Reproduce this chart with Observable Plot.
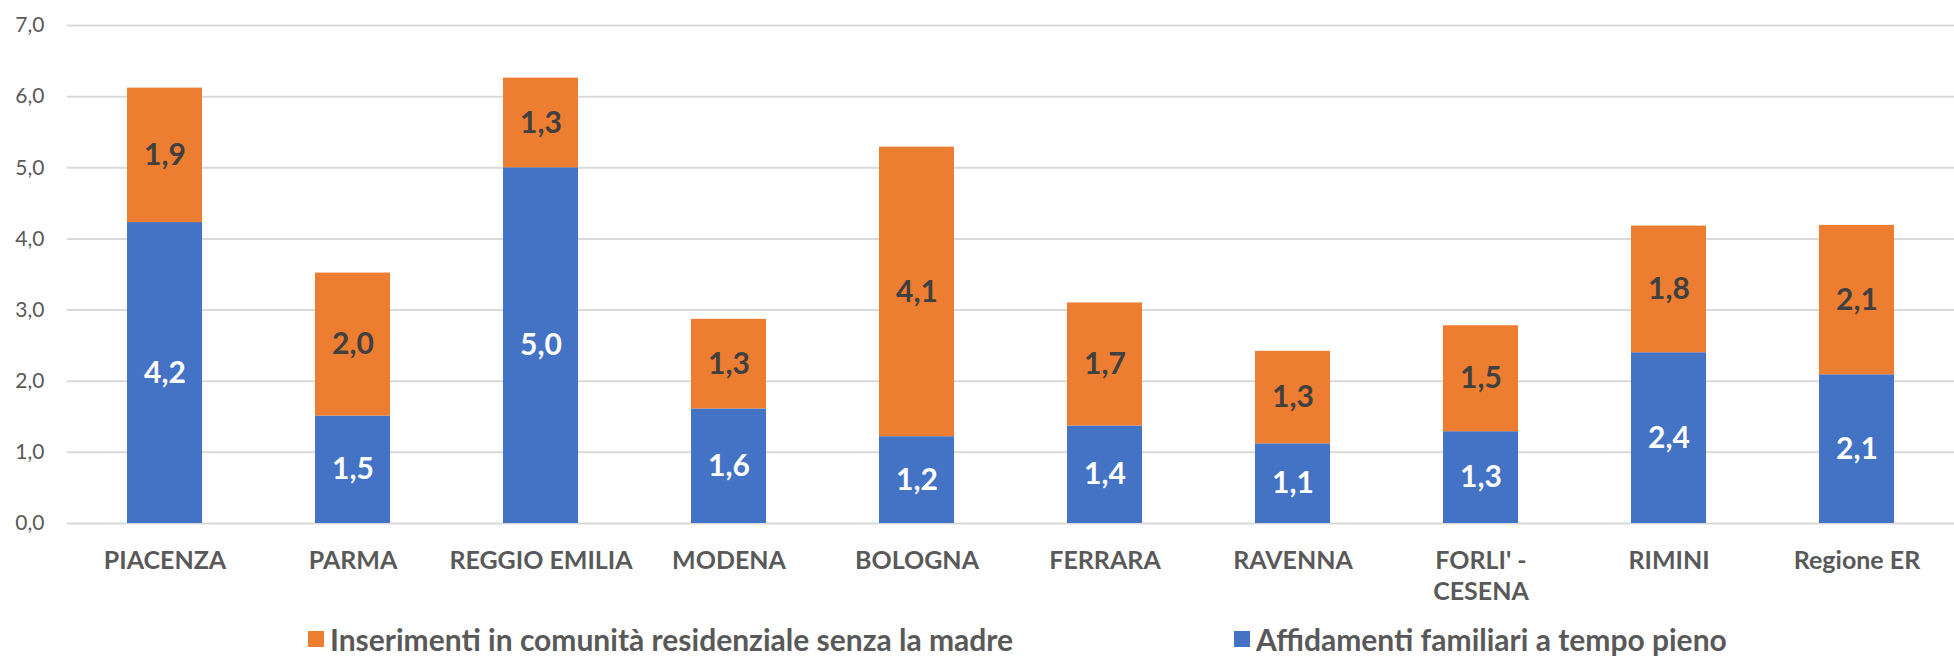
<!DOCTYPE html>
<html>
<head>
<meta charset="utf-8">
<script src="https://cdn.jsdelivr.net/npm/d3@7"></script>
<script src="https://cdn.jsdelivr.net/npm/@observablehq/plot@0.6"></script>
<style>
  body { margin: 0; background: white; overflow: hidden; font-family: Lato, "Liberation Sans", sans-serif; }
  #wrap { position: relative; width: 1954px; height: 656px; }
  #chart { position: absolute; left: 0; top: 0; }
  #legend { position: absolute; left: 0; top: 612px; width: 1954px; height: 44px; }
  .item { position: absolute; top: 11px; height: 32px; display: flex; align-items: center; font-weight: bold; font-size: 30px; color: #595959; white-space: nowrap; }
  .sw { width: 16px; height: 16px; margin-right: 6px; }
</style>
</head>
<body>
<div id="wrap"><div id="chart"></div><div id="legend"></div></div>
<script>
const categories = ["PIACENZA", "PARMA", "REGGIO EMILIA", "MODENA", "BOLOGNA", "FERRARA", "RAVENNA", "FORLI' - CESENA", "RIMINI", "Regione ER"];
const affidamenti = [4.23, 1.51, 5.00, 1.61, 1.22, 1.37, 1.12, 1.29, 2.40, 2.09];
const inserimenti = [1.89, 2.01, 1.26, 1.26, 4.07, 1.73, 1.30, 1.49, 1.78, 2.10];
const seriesNames = ["Affidamenti familiari a tempo pieno", "Inserimenti in comunità residenziale senza la madre"];
const seriesColors = ["#4472C4", "#ED7D31"];
const yTicks = [0, 1, 2, 3, 4, 5, 6, 7];

const fmt = d => d3.format(".1f")(d).replace(".", ",");
const rows = categories.flatMap((c, i) => [
  {cat: c, serie: seriesNames[0], v: affidamenti[i]},
  {cat: c, serie: seriesNames[1], v: inserimenti[i]}
]);

const chart = Plot.plot({
  width: 1954,
  height: 618,
  marginLeft: 67,
  marginRight: 0,
  marginTop: 25,
  marginBottom: 95,
  style: {fontFamily: "Lato, 'Liberation Sans', sans-serif", background: "transparent"},
  x: {domain: categories, paddingInner: 0.6, paddingOuter: 0.3, label: null},
  y: {domain: [0, 7], label: null},
  color: {domain: seriesNames, range: seriesColors},
  marks: [
    Plot.gridY(yTicks, {stroke: "#d9d9d9", strokeOpacity: 1, strokeWidth: 2}),
    Plot.barY(rows, {x: "cat", y: "v", fill: "serie", z: "serie"}),
    Plot.text(rows, Plot.stackY({x: "cat", y: "v", z: "serie",
      text: d => d.serie === seriesNames[0] ? fmt(d.v) : null,
      fill: "white", fontSize: 30, fontWeight: "bold"})),
    Plot.text(rows, Plot.stackY({x: "cat", y: "v", z: "serie",
      text: d => d.serie === seriesNames[1] ? fmt(d.v) : null,
      fill: "#404040", fontSize: 30, fontWeight: "bold"})),
    Plot.axisY({ticks: yTicks, tickSize: 0, tickPadding: 23, tickFormat: fmt, fontSize: 21, fill: "#595959", label: null}),
    Plot.axisX({tickSize: 0, tickPadding: 23, fontSize: 25, fontWeight: "bold", fill: "#595959", label: null,
      lineHeight: 1.25, tickFormat: d => d.replace(" - ", " -\n")})
  ]
});
document.getElementById("chart").appendChild(chart);

const legend = document.getElementById("legend");
const legendItems = [
  {name: seriesNames[1], color: seriesColors[1], left: 308},
  {name: seriesNames[0], color: seriesColors[0], left: 1234}
];
for (const it of legendItems) {
  const el = document.createElement("div");
  el.className = "item";
  el.style.left = it.left + "px";
  const sw = document.createElement("span");
  sw.className = "sw";
  sw.style.background = it.color;
  el.appendChild(sw);
  el.appendChild(document.createTextNode(it.name));
  legend.appendChild(el);
}
</script>
</body>
</html>
